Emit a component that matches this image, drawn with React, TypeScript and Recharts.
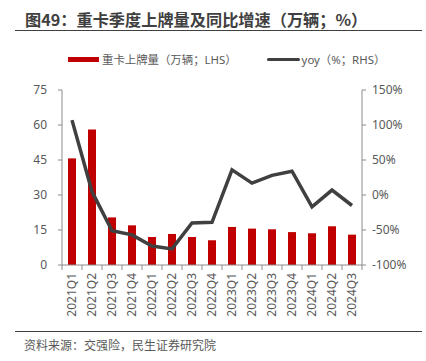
import React from "react";
import {
  ComposedChart,
  Bar,
  Line,
  XAxis,
  YAxis,
} from "recharts";

const quarters = [
  "2021Q1", "2021Q2", "2021Q3", "2021Q4",
  "2022Q1", "2022Q2", "2022Q3", "2022Q4",
  "2023Q1", "2023Q2", "2023Q3", "2023Q4",
  "2024Q1", "2024Q2", "2024Q3",
];

// 重卡上牌量（万辆）
const registrations = [
  45.7, 58.1, 20.4, 17.0, 12.0, 13.3, 12.0, 10.6,
  16.3, 15.6, 15.3, 14.1, 13.6, 16.6, 13.0,
];

// yoy (%)
const yoy = [
  107, 5, -51, -57, -73, -77, -40, -39,
  36, 17, 28, 34, -17, 7, -15,
];

const leftTicks = [0, 15, 30, 45, 60, 75];
const rightTicks = [-100, -50, 0, 50, 100, 150];

const chartData = quarters.map((q, i) => ({
  quarter: q,
  volume: registrations[i],
  yoy: yoy[i],
}));

const RED = "#c00000";
const LINE = "#404040";
const AXIS = "#8c8c8c";
const TEXT = "#595959";
const FONT = "'Noto Sans', 'Noto Sans CJK SC', sans-serif";
const HALF_BAND = 10;

const QuarterTick = (props: any) => {
  const { x, y, payload, index } = props;
  return (
    <g>
      {index === 0 && (
        <line x1={x - HALF_BAND} x2={x - HALF_BAND} y1={y} y2={y + 5} stroke={AXIS} />
      )}
      <line x1={x + HALF_BAND} x2={x + HALF_BAND} y1={y} y2={y + 5} stroke={AXIS} />
      <text
        transform={`translate(${x},${y + 8}) rotate(-90)`}
        textAnchor="end"
        dy="0.36em"
        fontSize={12}
        fill={TEXT}
        fontFamily={FONT}
      >
        {payload.value}
      </text>
    </g>
  );
};

export default function App() {
  return (
    <div
      style={{
        position: "absolute",
        left: 0,
        top: 0,
        width: 426,
        height: 361,
        background: "#fff",
        fontFamily: FONT,
      }}
    >
      <div
        style={{
          position: "absolute",
          left: 25,
          top: 7,
          fontSize: 16.2,
          fontWeight: 700,
          color: "#404040",
          whiteSpace: "nowrap",
          fontFamily: "'Noto Sans CJK SC', sans-serif",
        }}
      >
        图49：重卡季度上牌量及同比增速（万辆；%）
      </div>
      <div
        style={{
          position: "absolute",
          left: 15,
          top: 30,
          width: 407,
          height: 1,
          background: "#404040",
        }}
      />

      <div
        style={{
          position: "absolute",
          top: 51,
          left: 68,
          fontSize: 11.4,
          color: TEXT,
          display: "flex",
          alignItems: "center",
          whiteSpace: "nowrap",
        }}
      >
        <span style={{ display: "inline-block", width: 31, height: 5, background: RED, marginRight: 3 }} />
        <span>重卡上牌量（万辆；LHS）</span>
        <span
          style={{
            display: "inline-block",
            width: 33,
            height: 3,
            background: LINE,
            marginLeft: 30,
            borderRadius: 1.5,
            marginRight: 2,
          }}
        />
        <span>yoy（%；RHS）</span>
      </div>

      <div style={{ position: "absolute", left: 0, top: 0 }}>
        <ComposedChart
          width={426}
          height={361}
          data={chartData}
          margin={{ top: 90, right: 0, bottom: 0, left: 0 }}
        >
          <XAxis
            dataKey="quarter"
            interval={0}
            height={96}
            tickLine={false}
            tickSize={0}
            tickMargin={0}
            stroke={AXIS}
            tick={<QuarterTick />}
          />
          <YAxis
            yAxisId="left"
            width={62}
            domain={[0, 75]}
            ticks={leftTicks}
            interval={0}
            stroke={AXIS}
            tickSize={4}
            tickMargin={11}
            tick={{ fontSize: 12, fill: TEXT, fontFamily: FONT }}
          />
          <YAxis
            yAxisId="right"
            orientation="right"
            width={64}
            domain={[-100, 150]}
            ticks={rightTicks}
            interval={0}
            stroke={AXIS}
            tickSize={4}
            tickMargin={6}
            tickFormatter={(v) => `${v}%`}
            tick={{ fontSize: 12, fill: TEXT, fontFamily: FONT }}
          />
          <Bar
            yAxisId="left"
            dataKey="volume"
            fill={RED}
            barSize={8}
            isAnimationActive={false}
          />
          <Line
            yAxisId="right"
            dataKey="yoy"
            type="linear"
            stroke={LINE}
            strokeWidth={3.5}
            dot={false}
            isAnimationActive={false}
          />
        </ComposedChart>
      </div>

      <div
        style={{
          position: "absolute",
          left: 15,
          top: 331,
          width: 407,
          height: 1,
          background: "#404040",
        }}
      />
      <div
        style={{
          position: "absolute",
          left: 24,
          top: 336,
          fontSize: 12,
          color: TEXT,
          whiteSpace: "nowrap",
          fontFamily: "'Noto Sans CJK SC', sans-serif",
        }}
      >
        资料来源：交强险，民生证券研究院
      </div>
    </div>
  );
}
